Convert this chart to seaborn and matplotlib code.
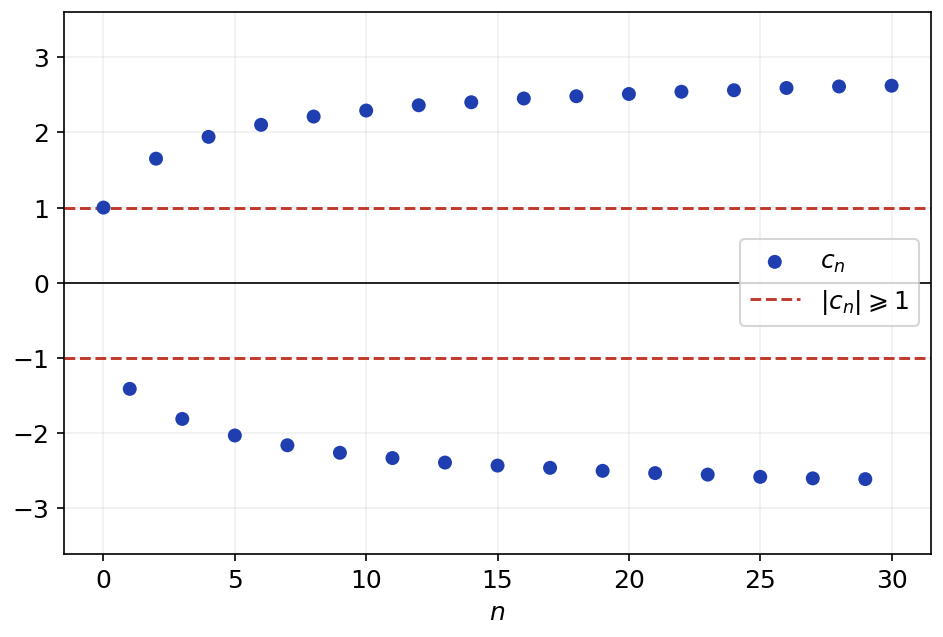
import numpy as np
import pandas as pd
import matplotlib
matplotlib.use('Agg')
import matplotlib.pyplot as plt
import seaborn as sns

n_values = list(range(31))
c_values = [1.00, -1.41, 1.65, -1.81, 1.94, -2.03, 2.10, -2.16, 2.21, -2.26,
            2.29, -2.33, 2.36, -2.39, 2.40, -2.43, 2.45, -2.46, 2.48, -2.50,
            2.51, -2.53, 2.54, -2.55, 2.56, -2.58, 2.59, -2.60, 2.61, -2.61, 2.62]
bound = 1.0

data = pd.DataFrame({'n': n_values, 'c': c_values})

sns.set_style('ticks')
plt.rcParams['font.family'] = ['DejaVu Sans']
plt.rcParams['text.color'] = 'black'
plt.rcParams['axes.labelcolor'] = 'black'
plt.rcParams['xtick.color'] = 'black'
plt.rcParams['ytick.color'] = 'black'
plt.rcParams['axes.edgecolor'] = 'black'
fig, ax = plt.subplots(figsize=(6.29, 4.25), dpi=150)

sns.scatterplot(data=data, x='n', y='c', color='#1f3fb0', s=45, edgecolor='none',
                label='$c_n$', ax=ax, zorder=3)
ax.axhline(bound, color='#c0392b', linestyle='--', linewidth=1.4, label=r'$|c_n| \geqslant 1$')
ax.axhline(-bound, color='#c0392b', linestyle='--', linewidth=1.4)
ax.axhline(0, color='black', linewidth=0.8)

ax.set_ylim(-3.6, 3.6)
ax.set_xlim(-1.5, 31.5)
ax.set_yticks([-3, -2, -1, 0, 1, 2, 3])
ax.set_xlabel('$n$', fontsize=12)
ax.set_ylabel('')
ax.tick_params(labelsize=12)
ax.grid(True, alpha=0.3)
ax.legend(loc='center right', bbox_to_anchor=(1.0, 0.5), fontsize=12)

plt.tight_layout(pad=0.6)
plt.savefig('out.png', dpi=150)
